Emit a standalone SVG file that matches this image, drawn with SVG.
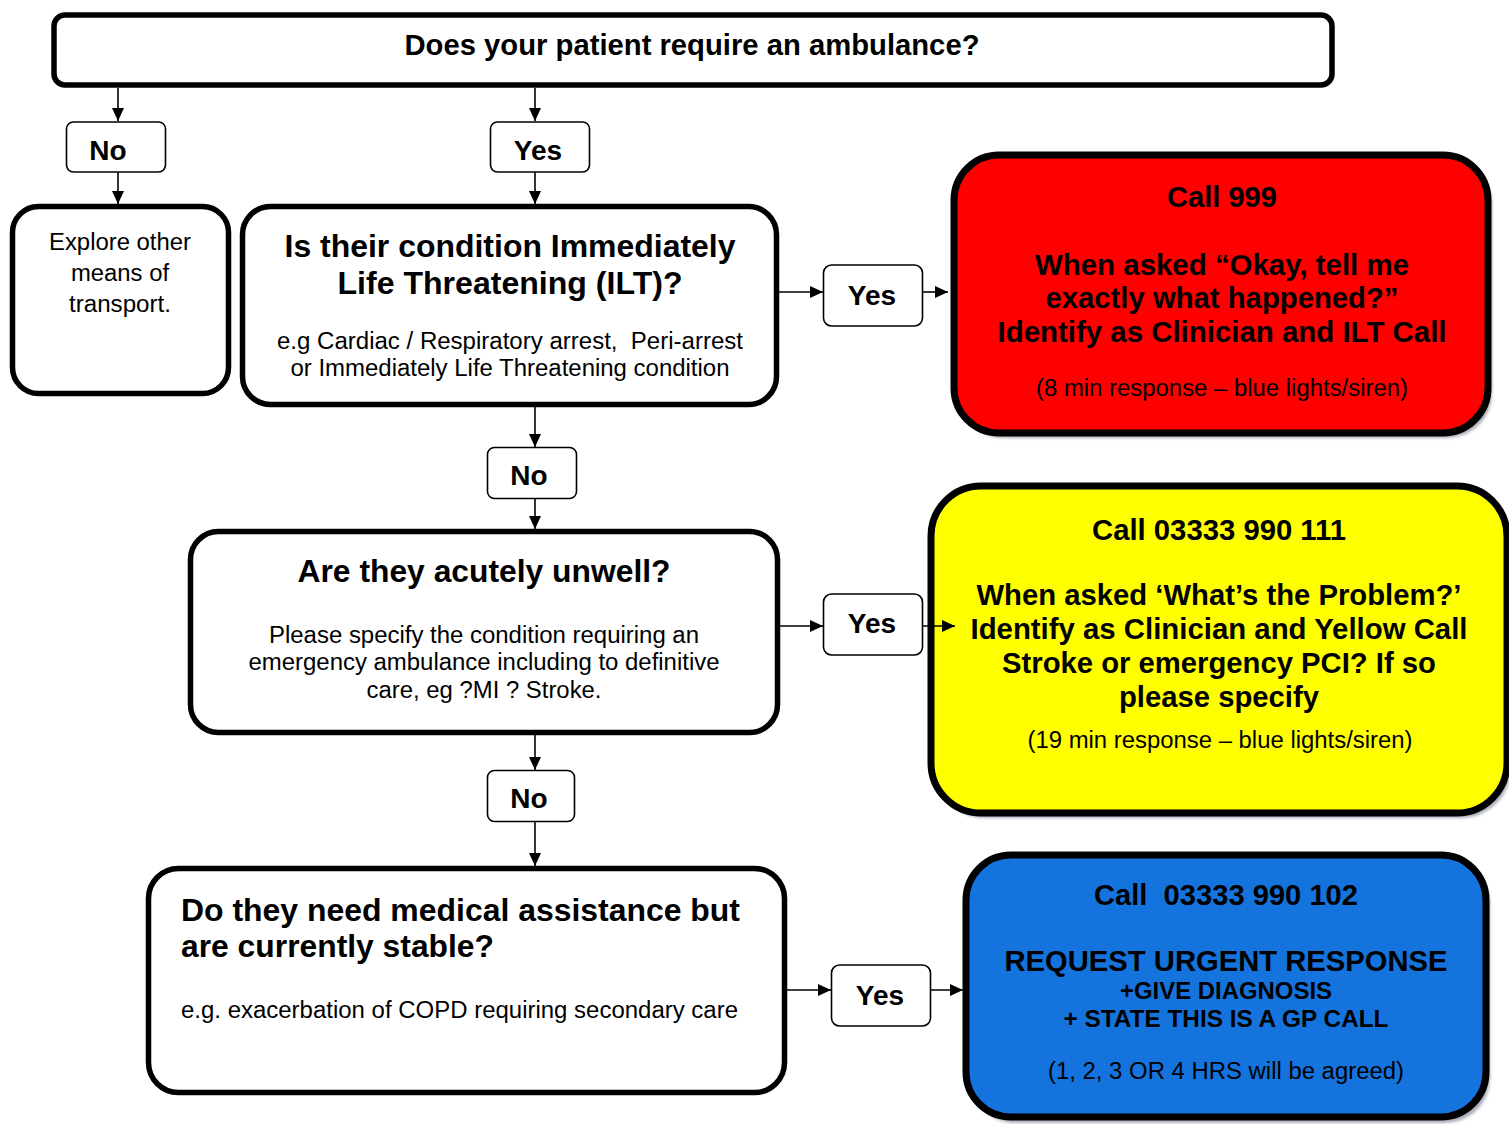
<svg xmlns="http://www.w3.org/2000/svg" width="1509" height="1124" viewBox="0 0 1509 1124">
<defs>
<marker id="arr" markerUnits="userSpaceOnUse" markerWidth="13" markerHeight="12" refX="13" refY="6" orient="auto">
<path d="M0,0 L13,6 L0,12 z" fill="#000"/>
</marker>
<filter id="sh" x="-5%" y="-5%" width="115%" height="115%">
<feGaussianBlur stdDeviation="1.5"/>
</filter>
</defs>
<style>
.main{fill:#fff;stroke:#000;stroke-width:5.5}
.lbl{fill:#fff;stroke:#000;stroke-width:1.6}
.big{fill:none;stroke:#000;stroke-width:7}
.shadow{fill:#a7adb8;filter:url(#sh)}
text{font-family:"Liberation Sans",Arial,sans-serif;fill:#000}
.b{font-weight:bold}
.c{text-anchor:middle}
.conn line{stroke:#000;stroke-width:1.6;marker-end:url(#arr)}
</style>
<rect width="1509" height="1124" fill="#fff"/>

<g id="q-ambulance">
<rect class="main" x="54" y="15" width="1278" height="70" rx="11"/>
<text class="b c" x="692" y="55" font-size="29" textLength="575" lengthAdjust="spacingAndGlyphs">Does your patient require an ambulance?</text>
</g>

<g id="no-1">
<rect class="lbl" x="66.5" y="122" width="99" height="50" rx="7"/>
<text class="b c" x="108" y="160" font-size="28">No</text>
</g>
<g id="yes-1">
<rect class="lbl" x="490.5" y="122" width="99" height="50" rx="7"/>
<text class="b c" x="538" y="160" font-size="28">Yes</text>
</g>

<g id="explore">
<rect class="main" x="12.5" y="206.5" width="216" height="187" rx="26"/>
<text class="c" x="120" y="250" font-size="23" textLength="142" lengthAdjust="spacingAndGlyphs">Explore other</text>
<text class="c" x="120" y="281" font-size="23" textLength="98" lengthAdjust="spacingAndGlyphs">means of</text>
<text class="c" x="120" y="312" font-size="23" textLength="102" lengthAdjust="spacingAndGlyphs">transport.</text>
</g>

<g id="q-ilt">
<rect class="main" x="242.5" y="206.5" width="534" height="198" rx="28"/>
<text class="b c" x="510" y="257" font-size="32" textLength="451" lengthAdjust="spacingAndGlyphs">Is their condition Immediately</text>
<text class="b c" x="510" y="294" font-size="32" textLength="345" lengthAdjust="spacingAndGlyphs">Life Threatening (ILT)?</text>
<text class="c" x="510" y="349" font-size="23" textLength="466" lengthAdjust="spacingAndGlyphs" xml:space="preserve">e.g Cardiac / Respiratory arrest,  Peri-arrest</text>
<text class="c" x="510" y="376" font-size="23" textLength="439" lengthAdjust="spacingAndGlyphs">or Immediately Life Threatening condition</text>
</g>

<g id="yes-ilt">
<rect class="lbl" x="823.5" y="265" width="99" height="61" rx="8"/>
<text class="b c" x="872" y="305" font-size="28">Yes</text>
</g>

<g id="call-999">
<rect class="shadow" x="958" y="160" width="534" height="278" rx="45"/>
<rect x="954" y="155" width="534" height="278" rx="45" fill="#ff0000"/>
<rect class="big" x="954" y="155" width="534" height="278" rx="45"/>
<text class="b c" x="1222" y="207" font-size="29" textLength="110" lengthAdjust="spacingAndGlyphs">Call 999</text>
<text class="b c" x="1222" y="275" font-size="29" textLength="374" lengthAdjust="spacingAndGlyphs">When asked “Okay, tell me</text>
<text class="b c" x="1222" y="308" font-size="29" textLength="353" lengthAdjust="spacingAndGlyphs">exactly what happened?”</text>
<text class="b c" x="1222" y="342" font-size="29" textLength="449" lengthAdjust="spacingAndGlyphs">Identify as Clinician and ILT Call</text>
<text class="c" x="1222" y="396" font-size="23" textLength="372" lengthAdjust="spacingAndGlyphs">(8 min response – blue lights/siren)</text>
</g>

<g id="no-2">
<rect class="lbl" x="487.5" y="447.5" width="89" height="51" rx="7"/>
<text class="b c" x="529" y="485" font-size="28">No</text>
</g>

<g id="q-acute">
<rect class="main" x="190.5" y="531.5" width="587" height="201" rx="28"/>
<text class="b c" x="484" y="582" font-size="32" textLength="373" lengthAdjust="spacingAndGlyphs">Are they acutely unwell?</text>
<text class="c" x="484" y="643" font-size="23" textLength="430" lengthAdjust="spacingAndGlyphs">Please specify the condition requiring an</text>
<text class="c" x="484" y="670" font-size="23" textLength="471" lengthAdjust="spacingAndGlyphs">emergency ambulance including to definitive</text>
<text class="c" x="484" y="698" font-size="23" textLength="235" lengthAdjust="spacingAndGlyphs">care, eg ?MI ? Stroke.</text>
</g>

<g id="yes-acute">
<rect class="lbl" x="823.5" y="594" width="99" height="61" rx="8"/>
<text class="b c" x="872" y="633" font-size="28">Yes</text>
</g>

<g id="call-111">
<rect class="shadow" x="935" y="490" width="576" height="328" rx="50"/>
<rect x="931" y="486" width="576" height="327" rx="50" fill="#ffff00"/>
<rect class="big" x="931" y="486" width="576" height="327" rx="50"/>
<text class="b c" x="1219" y="540" font-size="29" textLength="254" lengthAdjust="spacingAndGlyphs">Call 03333 990 111</text>
<text class="b c" x="1219" y="605" font-size="29" textLength="485" lengthAdjust="spacingAndGlyphs">When asked ‘What’s the Problem?’</text>
<text class="b c" x="1219" y="639" font-size="29" textLength="497" lengthAdjust="spacingAndGlyphs">Identify as Clinician and Yellow Call</text>
<text class="b c" x="1219" y="673" font-size="29" textLength="434" lengthAdjust="spacingAndGlyphs">Stroke or emergency PCI? If so</text>
<text class="b c" x="1219" y="707" font-size="29" textLength="200" lengthAdjust="spacingAndGlyphs">please specify</text>
<text class="c" x="1220" y="748" font-size="23" textLength="385" lengthAdjust="spacingAndGlyphs">(19 min response – blue lights/siren)</text>
</g>

<g id="no-3">
<rect class="lbl" x="487.5" y="770.5" width="87" height="51" rx="7"/>
<text class="b c" x="529" y="808" font-size="28">No</text>
</g>

<g id="q-stable">
<rect class="main" x="148.5" y="868.5" width="636" height="224" rx="30"/>
<text class="b" x="181" y="921" font-size="32" textLength="559" lengthAdjust="spacingAndGlyphs">Do they need medical assistance but</text>
<text class="b" x="181" y="957" font-size="32" textLength="313" lengthAdjust="spacingAndGlyphs">are currently stable?</text>
<text x="181" y="1018" font-size="23" textLength="557" lengthAdjust="spacingAndGlyphs">e.g. exacerbation of COPD requiring secondary care</text>
</g>

<g id="yes-stable">
<rect class="lbl" x="831.5" y="965" width="99" height="61" rx="8"/>
<text class="b c" x="880" y="1005" font-size="28">Yes</text>
</g>

<g id="call-102">
<rect class="shadow" x="970" y="859" width="520" height="264" rx="45"/>
<rect x="966" y="855" width="520" height="262" rx="45" fill="#1473dc"/>
<rect class="big" x="966" y="855" width="520" height="262" rx="45"/>
<text class="b c" x="1226" y="905" font-size="29" textLength="264" lengthAdjust="spacingAndGlyphs" xml:space="preserve">Call  03333 990 102</text>
<text class="b c" x="1226" y="971" font-size="29" textLength="443" lengthAdjust="spacingAndGlyphs">REQUEST URGENT RESPONSE</text>
<text class="b c" x="1226" y="999" font-size="24" textLength="212" lengthAdjust="spacingAndGlyphs">+GIVE DIAGNOSIS</text>
<text class="b c" x="1226" y="1027" font-size="24" textLength="325" lengthAdjust="spacingAndGlyphs">+ STATE THIS IS A GP CALL</text>
<text class="c" x="1226" y="1079" font-size="23" textLength="356" lengthAdjust="spacingAndGlyphs">(1, 2, 3 OR 4 HRS will be agreed)</text>
</g>

<g id="connectors" class="conn">
<line x1="118" y1="88" x2="118" y2="121"/>
<line x1="118" y1="172" x2="118" y2="204"/>
<line x1="535" y1="88" x2="535" y2="121"/>
<line x1="535" y1="172" x2="535" y2="204"/>
<line x1="779" y1="292" x2="823" y2="292"/>
<line x1="922" y1="292" x2="948" y2="292"/>
<line x1="535" y1="407" x2="535" y2="447"/>
<line x1="535" y1="498" x2="535" y2="529"/>
<line x1="780" y1="626" x2="823" y2="626"/>
<line x1="922" y1="626" x2="955" y2="626"/>
<line x1="535" y1="735" x2="535" y2="770"/>
<line x1="535" y1="821" x2="535" y2="866"/>
<line x1="787" y1="990" x2="831" y2="990"/>
<line x1="930" y1="990" x2="963" y2="990"/>
</g>
</svg>
